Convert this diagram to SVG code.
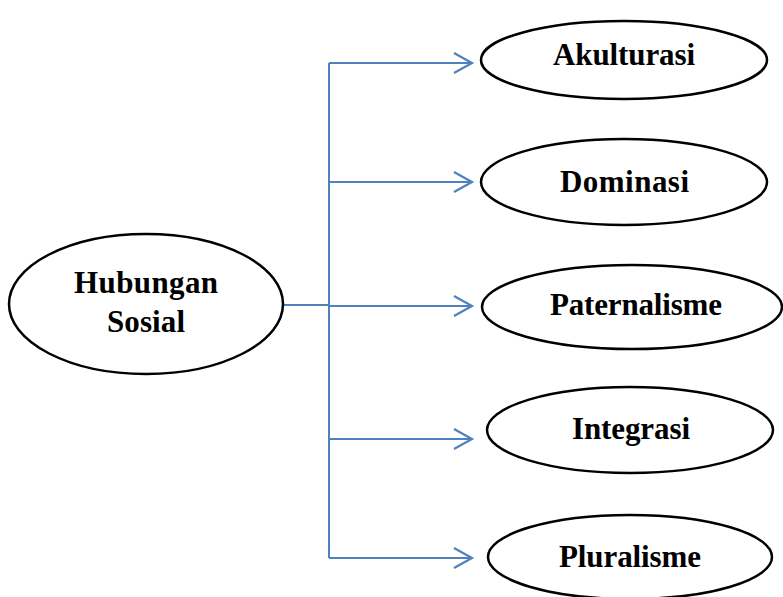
<svg xmlns="http://www.w3.org/2000/svg" width="783" height="597" viewBox="0 0 783 597">
<style>
.node ellipse{fill:#fff;stroke:#000;stroke-width:2.5}
.node text{font-family:"Liberation Serif","Times New Roman",serif;font-weight:bold;font-size:31px;fill:#000;text-anchor:start}
.conn path{fill:none;stroke:#4f81bd;stroke-width:2}
</style>
<defs>
<marker id="arr" markerWidth="22" markerHeight="24" refX="19" refY="11" orient="auto" markerUnits="userSpaceOnUse">
<path d="M1,1 L19,11 L1,21" fill="none" stroke="#4f81bd" stroke-width="2.2"/>
</marker>
</defs>
<rect width="783" height="597" fill="#fff"/>
<g id="connectors" class="conn">
<path d="M283,305 H329"/>
<path d="M329,63 V558"/>
<path d="M329,63 H472" marker-end="url(#arr)"/>
<path d="M329,182 H472" marker-end="url(#arr)"/>
<path d="M329,306 H472" marker-end="url(#arr)"/>
<path d="M329,439 H472" marker-end="url(#arr)"/>
<path d="M329,558 H472" marker-end="url(#arr)"/>
</g>
<g id="hubungan-sosial" class="node">
<ellipse cx="146" cy="304" rx="137" ry="70"/>
<text x="74" y="293" textLength="144" lengthAdjust="spacing">Hubungan</text>
<text x="107" y="332" textLength="78" lengthAdjust="spacing">Sosial</text>
</g>
<g id="akulturasi" class="node">
<ellipse cx="624" cy="60" rx="143" ry="39"/>
<text x="553" y="65" textLength="142" lengthAdjust="spacing">Akulturasi</text>
</g>
<g id="dominasi" class="node">
<ellipse cx="624" cy="182" rx="143" ry="43"/>
<text x="560" y="192" textLength="129" lengthAdjust="spacing">Dominasi</text>
</g>
<g id="paternalisme" class="node">
<ellipse cx="632" cy="307" rx="150" ry="42"/>
<text x="550" y="315" textLength="172" lengthAdjust="spacing">Paternalisme</text>
</g>
<g id="integrasi" class="node">
<ellipse cx="630" cy="430" rx="143" ry="43"/>
<text x="572" y="439" textLength="118" lengthAdjust="spacing">Integrasi</text>
</g>
<g id="pluralisme" class="node">
<ellipse cx="630" cy="557" rx="142" ry="42"/>
<text x="559" y="567" textLength="142" lengthAdjust="spacing">Pluralisme</text>
</g>
</svg>
